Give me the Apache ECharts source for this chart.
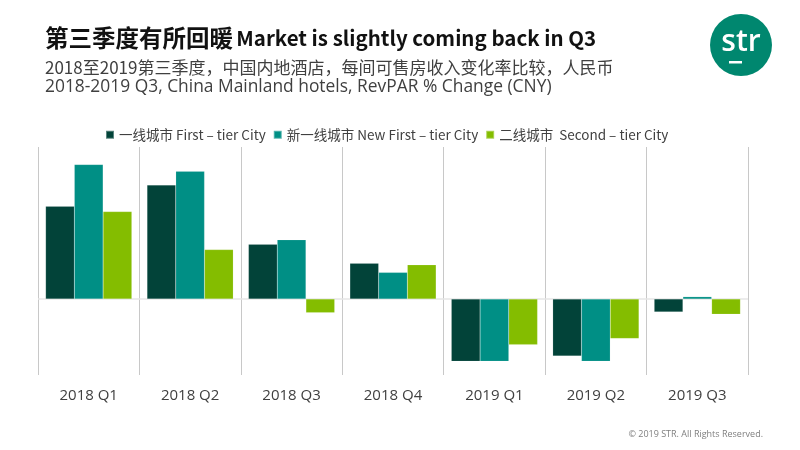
<!DOCTYPE html>
<html>
<head>
<meta charset="utf-8">
<script src="https://cdn.jsdelivr.net/npm/echarts@6/dist/echarts.min.js"></script>
<style>
html,body{margin:0;padding:0;background:#fff;}
#c{width:800px;height:450px;}
</style>
</head>
<body>
<div id="c"></div>
<script>
const categories = ['2018 Q1','2018 Q2','2018 Q3','2018 Q4','2019 Q1','2019 Q2','2019 Q3'];
const seriesNames = ['一线城市 First – tier City','新一线城市 New First – tier City','二线城市  Second – tier City'];
const firstTier = [12.2, 15.0, 7.2, 4.7, -8.2, -7.5, -1.7];
const newFirstTier = [17.7, 16.8, 7.8, 3.5, -8.2, -8.2, 0.3];
const secondTier = [11.5, 6.5, -1.8, 4.5, -6.0, -5.2, -2.0];
const colors = ['#024339','#008F85','#84BD00'];

const chart = echarts.init(document.getElementById('c'));
const font = '"Noto Sans CJK SC","Open Sans",sans-serif';
const mkSeries = (name, data, color, withZero) => {
  const s = {
    name, type:'bar', data,
    barGap:'0%', barCategoryGap:'15%',
    itemStyle:{color, borderColor:'rgba(255,255,255,0.35)', borderWidth:0.4},
    emphasis:{disabled:true}
  };
  if (withZero) {
    s.markLine = {silent:true, symbol:'none', label:{show:false},
      lineStyle:{color:'#e6e6e6', type:'solid', width:1.5},
      data:[{yAxis:0}]};
  }
  return s;
};
chart.setOption({
  animation:false,
  textStyle:{fontFamily:font},
  grid:{left:38, right:52, top:147, bottom:75},
  legend:{
    top:123, left:100, icon:'rect', itemWidth:8, itemHeight:8, itemGap:7,
    textStyle:{fontSize:13.5, color:'#404040', fontFamily:font},
    data:seriesNames
  },
  xAxis:{
    type:'category', data:categories,
    axisLine:{show:false}, axisTick:{show:false},
    axisLabel:{fontSize:15, color:'#404040', margin:13, fontFamily:'"Open Sans",sans-serif'},
    splitLine:{show:true, lineStyle:{color:'#c8c8c8', width:1}}
  },
  yAxis:{
    type:'value', min:-10, max:20, interval:10, show:false,
    splitLine:{show:false}
  },
  series:[
    mkSeries(seriesNames[0], firstTier, colors[0], false),
    mkSeries(seriesNames[1], newFirstTier, colors[1], false),
    mkSeries(seriesNames[2], secondTier, colors[2], false),
    {type:'line', data:[], silent:true,
      markLine:{silent:true, symbol:'none', label:{show:false}, z:1,
        lineStyle:{color:'#e6e6e6', type:'solid', width:1.5},
        data:[{yAxis:0}]}}
  ],
  graphic:[
    {type:'text', left:45, top:26, style:{
      text:'{a|第三季度有所回暖} {b|Market is slightly coming back in Q3}',
      rich:{
        a:{fontSize:23.5, fontWeight:'bold', fill:'#111', fontFamily:'"Noto Sans CJK SC",sans-serif'},
        b:{fontSize:20.5, fontWeight:'bold', fill:'#111', fontFamily:'"Noto Sans CJK SC",sans-serif'}
      }}},
    {type:'text', left:45, top:59, style:{
      text:'2018至2019第三季度，中国内地酒店，每间可售房收入变化率比较，人民币',
      fontSize:17, fill:'#404040', fontFamily:'"Noto Sans CJK SC",sans-serif'}},
    {type:'text', left:45, top:79, style:{
      text:'2018-2019 Q3, China Mainland hotels, RevPAR % Change (CNY)',
      fontSize:17.4, fill:'#404040', fontFamily:'"Open Sans",sans-serif'}},
    {type:'circle', shape:{cx:741, cy:45, r:31}, style:{fill:'#00876F'}},
    {type:'text', x:741, y:42, style:{text:'str', fill:'#fff', fontSize:30, fontWeight:600,
      fontFamily:'"Open Sans",sans-serif', align:'center', verticalAlign:'middle'}},
    {type:'rect', shape:{x:729, y:61, width:13, height:2.5}, style:{fill:'#fff'}},
    {type:'text', right:37, top:430, style:{text:'© 2019 STR. All Rights Reserved.',
      fontSize:9, fill:'#7f7f7f', fontFamily:'"Open Sans",sans-serif'}}
  ]
});
</script>
</body>
</html>
